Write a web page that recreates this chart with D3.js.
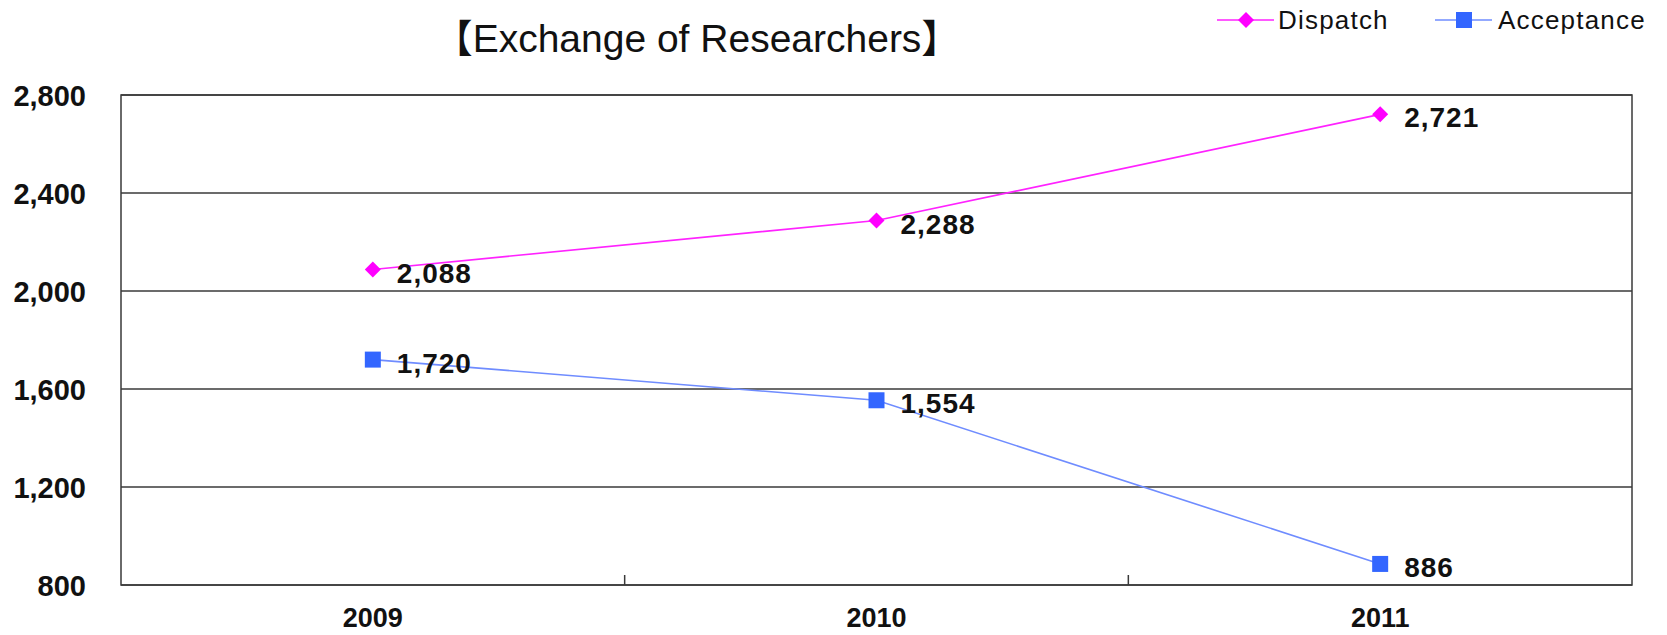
<!DOCTYPE html>
<html>
<head>
<meta charset="utf-8">
<script src="https://cdn.jsdelivr.net/npm/d3@7"></script>
<style>
  html, body { margin: 0; padding: 0; background: #fff; }
  svg { display: block; }
</style>
</head>
<body>
<svg id="chart" width="1667" height="635"></svg>
<script>
const categories = ["2009", "2010", "2011"];
const dispatch = [2088, 2288, 2721];
const acceptance = [1720, 1554, 886];
const yTicks = [800, 1200, 1600, 2000, 2400, 2800];
const seriesNames = ["Dispatch", "Acceptance"];
const titleText = "【Exchange of Researchers】";

const W = 1667, H = 635;
const margin = { left: 121, right: 35, top: 95, bottom: 50 };
const svg = d3.select("#chart");
const pw = W - margin.left - margin.right;
const ph = H - margin.top - margin.bottom;

const x = d3.scaleBand().domain(categories).range([margin.left, margin.left + pw]).padding(0);
const y = d3.scaleLinear().domain([800, 2800]).range([margin.top + ph, margin.top]);
const cx = c => x(c) + x.bandwidth() / 2;

const gridColor = "#3a3a3a";
const numFont = "'Liberation Sans', Arial, sans-serif";

// gridlines
svg.append("g").selectAll("line").data(yTicks).join("line")
  .attr("x1", margin.left).attr("x2", margin.left + pw)
  .attr("y1", d => y(d)).attr("y2", d => y(d))
  .attr("stroke", gridColor).attr("stroke-width", 1.5);

// frame
svg.append("rect")
  .attr("x", margin.left).attr("y", margin.top)
  .attr("width", pw).attr("height", ph)
  .attr("fill", "none").attr("stroke", gridColor).attr("stroke-width", 1.5);

// x tick marks at band boundaries (inward)
const bounds = categories.slice(1).map(c => x(c));
svg.append("g").selectAll("line").data(bounds).join("line")
  .attr("x1", d => d).attr("x2", d => d)
  .attr("y1", margin.top + ph).attr("y2", margin.top + ph - 10)
  .attr("stroke", gridColor).attr("stroke-width", 1.5);

// y axis labels
const yAxis = d3.axisLeft(y).tickValues(yTicks).tickFormat(d3.format(",")).tickSize(0).tickPadding(35);
const ya = svg.append("g").attr("transform", `translate(${margin.left},0)`).call(yAxis);
ya.select(".domain").remove();
ya.selectAll("text").attr("font-family", numFont).attr("font-size", 29)
  .attr("font-weight", "bold").attr("fill", "#111").attr("dy", "0.36em");

// x axis labels
const xAxis = d3.axisBottom(x).tickSize(0).tickPadding(23);
const xa = svg.append("g").attr("transform", `translate(0,${margin.top + ph})`).call(xAxis);
xa.select(".domain").remove();
xa.selectAll("text").attr("font-family", numFont).attr("font-size", 27)
  .attr("font-weight", "bold").attr("fill", "#111");

// lines
const series = [
  { name: seriesNames[0], values: dispatch, line: "#ff22ff", marker: "#ff00ff", shape: "diamond" },
  { name: seriesNames[1], values: acceptance, line: "#6f8cff", marker: "#3366ff", shape: "square" }
];
const lineGen = d3.line().x(d => cx(d.c)).y(d => y(d.v));

function drawMarker(g, shape, color, px, py) {
  const s = 8;
  if (shape === "diamond") {
    g.append("path")
      .attr("d", `M${px},${py - s}L${px + s},${py}L${px},${py + s}L${px - s},${py}Z`)
      .attr("fill", color);
  } else {
    g.append("rect").attr("x", px - s).attr("y", py - s)
      .attr("width", 2 * s).attr("height", 2 * s).attr("fill", color);
  }
}

series.forEach(s => {
  const pts = categories.map((c, i) => ({ c, v: s.values[i] }));
  svg.append("path").datum(pts).attr("d", lineGen)
    .attr("fill", "none").attr("stroke", s.line).attr("stroke-width", 1.6);
  const g = svg.append("g");
  pts.forEach(p => drawMarker(g, s.shape, s.marker, cx(p.c), y(p.v)));
  svg.append("g").selectAll("text").data(pts).join("text")
    .attr("x", d => cx(d.c) + 24).attr("y", d => y(d.v) + 3)
    .attr("dy", "0.36em")
    .attr("font-family", numFont).attr("font-size", 28).attr("font-weight", "bold")
    .attr("letter-spacing", 1).attr("fill", "#111")
    .text(d => d3.format(",")(d.v));
});

// title
svg.append("text").attr("x", 697).attr("y", 52).attr("text-anchor", "middle")
  .attr("font-family", "'Liberation Sans', Arial, 'Noto Sans CJK JP', sans-serif")
  .attr("font-size", 39).attr("fill", "#111").text(titleText);

// legend
const legendItems = [
  { s: series[0], x0: 1217, tx: 1278 },
  { s: series[1], x0: 1435, tx: 1498 }
];
legendItems.forEach(li => {
  const ly = 20;
  svg.append("line").attr("x1", li.x0).attr("x2", li.x0 + 57)
    .attr("y1", ly).attr("y2", ly).attr("stroke", li.s.line).attr("stroke-width", 1.6);
  const g = svg.append("g");
  drawMarker(g, li.s.shape, li.s.marker, li.x0 + 29, ly);
  svg.append("text").attr("x", li.tx).attr("y", 29)
    .attr("font-family", numFont).attr("font-size", 26).attr("letter-spacing", 1.2)
    .attr("fill", "#111").text(li.s.name);
});
</script>
</body>
</html>
